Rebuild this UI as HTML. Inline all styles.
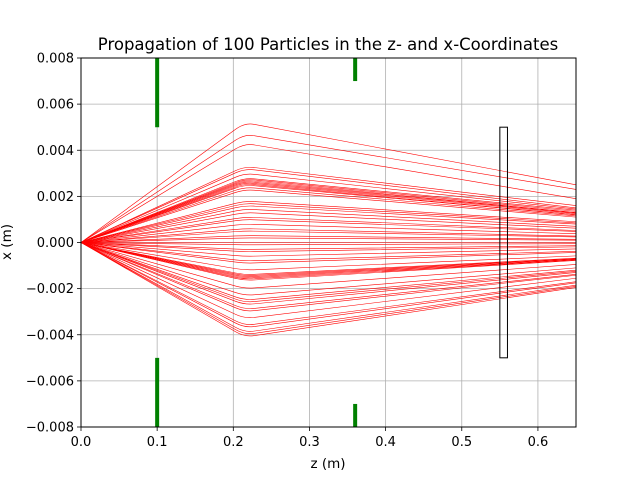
<!DOCTYPE html>
<html><head><meta charset="utf-8"><style>
body{margin:0;background:#fff;}
svg text{font-family:"DejaVu Sans","Liberation Sans",sans-serif;fill:#000;}
</style></head><body>
<svg id="chart" width="640" height="480" xmlns="http://www.w3.org/2000/svg">
<rect width="640" height="480" fill="#fff"/>
<text x="328" y="50" font-size="16.5" text-anchor="middle">Propagation of 100 Particles in the z- and x-Coordinates</text>
<text x="328" y="468" font-size="13.5" text-anchor="middle">z (m)</text>
<text transform="translate(11,242) rotate(-90)" font-size="13.5" text-anchor="middle">x (m)</text>
<g id="grid"></g><g id="marks"></g><g id="ticks"></g>
<rect x="81" y="58" width="495" height="369" fill="none" stroke="#000" stroke-width="1"/>
</svg>
<script>
const xTicks=[0,0.1,0.2,0.3,0.4,0.5,0.6];
const xTickLabels=["0.0","0.1","0.2","0.3","0.4","0.5","0.6"];
const yTicks=[-0.008,-0.006,-0.004,-0.002,0,0.002,0.004,0.006,0.008];
const yTickLabels=["−0.008","−0.006","−0.004","−0.002","0.000","0.002","0.004","0.006","0.008"];
const zLens=0.215, zEnd=0.65;
const peakX=[5.2,4.7,4.3,3.3,3.2,3.0,2.8,2.75,2.7,2.65,2.6,2.55,2.5,2.4,2.3,1.8,1.7,1.6,1.45,1.3,1.1,1.0,0.8,0.6,0.5,0.3,0.2,0.0,-0.1,-0.3,-0.4,-0.6,-0.8,-0.9,-1.2,-1.4,-1.45,-1.5,-1.55,-1.6,-1.65,-2.0,-2.3,-2.5,-2.6,-2.7,-2.9,-3.0,-3.3,-3.6,-3.7,-3.9,-4.0,-4.1];
const endX=[2.5,2.3,1.9,1.6,1.5,1.45,1.4,1.35,1.3,1.28,1.25,1.2,1.2,1.15,1.1,0.9,0.85,0.8,0.7,0.62,0.52,0.48,0.38,0.28,0.24,0.14,0.1,0.0,-0.05,-0.14,-0.19,-0.28,-0.38,-0.43,-0.58,-0.68,-0.7,-0.72,-0.74,-0.76,-0.78,-0.95,-1.1,-1.2,-1.25,-1.3,-1.38,-1.42,-1.55,-1.7,-1.75,-1.85,-1.9,-1.95];
const apertureZ=[0.1,0.36];
const apertureTop=[0.005,0.007];
const apertureBottom=[-0.005,-0.007];
const screenZ=[0.55,0.56];
const screenX=[-0.005,0.005];

const X=z=>81+z/0.65*495;
const Y=x=>58+(0.008-x)/0.016*369;
const NS="http://www.w3.org/2000/svg";
function mk(tag,parent,attrs){const e=document.createElementNS(NS,tag);for(const k in attrs)e.setAttribute(k,attrs[k]);document.getElementById(parent).appendChild(e);return e;}
xTicks.forEach((t,i)=>{
 const g=mk('line','grid',{x1:X(t),x2:X(t),y1:58,y2:427,stroke:'#b0b0b0','stroke-width':0.8});
 
 
 const tk=mk('line','ticks',{x1:X(t),x2:X(t),y1:427,y2:431,stroke:'#000','stroke-width':0.8});
 
 
 const tx=mk('text','ticks',{x:X(t),y:446,'font-size':13,'text-anchor':'middle'});tx.textContent=xTickLabels[i];
 
 
});
yTicks.forEach((t,i)=>{
 const g=mk('line','grid',{x1:81,x2:576,y1:Y(t),y2:Y(t),stroke:'#b0b0b0','stroke-width':0.8});
 
 
 const tk=mk('line','ticks',{x1:77,x2:81,y1:Y(t),y2:Y(t),stroke:'#000','stroke-width':0.8});
 
 
 const tx=mk('text','ticks',{x:74,y:Y(t)+4.5,'font-size':13,'text-anchor':'end'});tx.textContent=yTickLabels[i];
 
 
});
peakX.forEach((p,i)=>{
 const pk=p/1000, en=endX[i]/1000;
 const d=`M${X(0)},${Y(0)} L${X(zLens-0.012)},${Y(pk*(zLens-0.012)/zLens)} Q${X(zLens)},${Y(pk)} ${X(zLens+0.012)},${Y(pk+(en-pk)*0.012/(zEnd-zLens))} L${X(zEnd)},${Y(en)}`;
 const l=mk('path','marks',{d:d,fill:'none',stroke:'#ff0000','stroke-width':0.6});
 
 
});
apertureZ.forEach((z,i)=>{
 const a=mk('line','marks',{x1:X(z),x2:X(z),y1:Y(0.008),y2:Y(apertureTop[i]),stroke:'#008000','stroke-width':4});
 
 
 const b=mk('line','marks',{x1:X(z),x2:X(z),y1:Y(apertureBottom[i]),y2:Y(-0.008),stroke:'#008000','stroke-width':4});
 
 
});
const s=mk('rect','marks',{x:X(screenZ[0]),y:Y(screenX[1]),width:X(screenZ[1])-X(screenZ[0]),height:Y(screenX[0])-Y(screenX[1]),fill:'none',stroke:'#000','stroke-width':1});


</script>
</body></html>
